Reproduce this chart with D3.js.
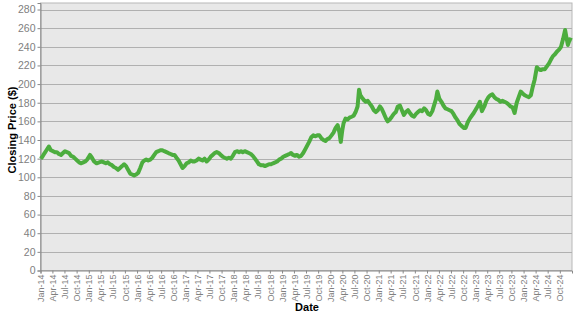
<!DOCTYPE html>
<html>
<head>
<meta charset="utf-8">
<script src="https://cdn.jsdelivr.net/npm/d3@7"></script>
<style>
  body { margin: 0; background: #fff; font-family: "Liberation Sans", Arial, sans-serif; }
  .tick text { fill: #808080; }
</style>
</head>
<body>
<script>
// closing prices, roughly twice a month
var dates = [
  "2014-01-02","2014-01-15","2014-02-01","2014-02-15","2014-03-05","2014-03-20","2014-04-05","2014-04-20",
  "2014-05-05","2014-05-20","2014-06-05","2014-06-20","2014-07-05","2014-07-20","2014-08-05","2014-08-20",
  "2014-09-05","2014-09-20","2014-10-05","2014-10-20","2014-11-05","2014-11-20","2014-12-05","2014-12-20",
  "2015-01-10","2015-01-25","2015-02-10","2015-03-01","2015-03-20","2015-04-10","2015-04-25","2015-05-10",
  "2015-05-25","2015-06-10","2015-06-25","2015-07-10","2015-07-25","2015-08-10","2015-08-25","2015-09-10",
  "2015-09-25","2015-10-10","2015-10-25","2015-11-10","2015-11-25","2015-12-10","2015-12-25",
  "2016-01-10","2016-01-25","2016-02-10","2016-02-25","2016-03-10","2016-03-25","2016-04-10","2016-04-25",
  "2016-05-10","2016-05-25","2016-06-10","2016-06-25","2016-07-10","2016-07-25","2016-08-10","2016-08-25",
  "2016-09-10","2016-09-25","2016-10-10","2016-10-25","2016-11-10","2016-11-25","2016-12-10","2016-12-25",
  "2017-01-10","2017-01-25","2017-02-10","2017-02-25","2017-03-10","2017-03-25","2017-04-10","2017-04-25",
  "2017-05-10","2017-05-25","2017-06-10","2017-06-25","2017-07-10","2017-07-25","2017-08-10","2017-08-25",
  "2017-09-10","2017-09-25","2017-10-10","2017-10-25","2017-11-10","2017-11-25","2017-12-10","2017-12-25",
  "2018-01-10","2018-01-25","2018-02-10","2018-02-25","2018-03-10","2018-03-25","2018-04-10","2018-04-25",
  "2018-05-10","2018-05-25","2018-06-10","2018-06-25","2018-07-10","2018-07-25","2018-08-10","2018-08-25",
  "2018-09-10","2018-09-25","2018-10-10","2018-10-25","2018-11-10","2018-11-25","2018-12-10","2018-12-25",
  "2019-01-10","2019-01-25","2019-02-10","2019-02-25","2019-03-10","2019-03-25","2019-04-10","2019-04-25",
  "2019-05-10","2019-05-25","2019-06-10","2019-06-25","2019-07-10","2019-07-25","2019-08-10","2019-08-25",
  "2019-09-10","2019-09-25","2019-10-10","2019-10-25","2019-11-10","2019-11-25","2019-12-10","2019-12-25",
  "2020-01-10","2020-01-25","2020-02-10","2020-02-25","2020-03-10","2020-03-20","2020-03-31","2020-04-10",
  "2020-04-25","2020-05-10","2020-05-25","2020-06-10","2020-06-25","2020-07-10","2020-07-25","2020-08-05",
  "2020-08-15","2020-08-25","2020-09-10","2020-09-25","2020-10-10","2020-10-25","2020-11-10","2020-11-25",
  "2020-12-10","2020-12-25",
  "2021-01-10","2021-01-25","2021-02-10","2021-02-25","2021-03-10","2021-03-25","2021-04-10","2021-04-25",
  "2021-05-10","2021-05-25","2021-06-10","2021-06-25","2021-07-10","2021-07-25","2021-08-10","2021-08-25",
  "2021-09-10","2021-09-25","2021-10-10","2021-10-25","2021-11-10","2021-11-25","2021-12-10","2021-12-25",
  "2022-01-10","2022-01-25","2022-02-10","2022-02-25","2022-03-10","2022-03-20","2022-04-05","2022-04-20",
  "2022-05-05","2022-05-20","2022-06-05","2022-06-20","2022-07-05","2022-07-20","2022-08-05","2022-08-20",
  "2022-09-05","2022-09-20","2022-10-05","2022-10-20","2022-11-05","2022-11-20","2022-12-05","2022-12-20",
  "2023-01-10","2023-01-25","2023-02-05","2023-02-20","2023-03-10","2023-03-25","2023-04-10","2023-04-25",
  "2023-05-10","2023-05-25","2023-06-10","2023-06-25","2023-07-10","2023-07-25","2023-08-10","2023-08-25",
  "2023-09-10","2023-09-25","2023-10-10","2023-10-25","2023-11-10","2023-11-25","2023-12-10","2023-12-25",
  "2024-01-10","2024-01-25","2024-02-10","2024-02-25","2024-03-10","2024-03-25","2024-04-10","2024-04-25",
  "2024-05-10","2024-05-25","2024-06-10","2024-06-25","2024-07-10","2024-07-25","2024-08-10","2024-08-25",
  "2024-09-10","2024-09-25","2024-10-10","2024-10-25","2024-11-10","2024-11-20","2024-12-01","2024-12-15",
  "2024-12-31"
];
var prices = [
  120,122,126,129,133,129,128,127, 127,125,124,126,128,127,126,123, 122,120,118,116,115,116,117,119,
  124,121,117,115,116,117,116,115, 116,114,113,111,110,108,110,112, 114,112,108,104,103,102,103,
  105,110,116,118,119,118,119,121, 124,127,128,129,129,128,127,126, 125,124,124,121,118,114,110,112,
  115,116,118,117,117,118,120,119, 118,120,117,119,122,124,126,127, 126,124,122,121,120,121,120,123,
  127,128,127,128,127,128,127,126, 125,123,120,117,114,113,113,112, 113,114,114,115,116,117,119,120,
  122,123,124,125,126,124,123,124, 122,123,126,130,134,138,143,145, 144,145,145,142,140,139,141,142,
  145,148,153,156,148,138,150,158, 163,162,164,165,166,170,176,194, 188,186,183,181,182,179,176,172,
  170,172,
  176,173,168,163,160,162,165,168, 170,176,177,172,167,170,172,169, 166,165,168,170,172,171,174,172,
  168,167,171,178,184,192,184,181, 177,174,173,172,171,168,164,161, 157,155,153,153,159,163,166,169,
  174,178,181,171,176,182,186,188, 189,186,184,183,181,182,181,180, 178,176,175,169,180,186,192,190,
  188,187,186,188,197,205,218,216, 215,216,216,219,222,226,230,232, 235,237,240,248,258,250,242,248,
  247
];
var yTicks = d3.range(0, 281, 20);
var xTickDates = d3.timeMonth.every(3).range(new Date(2014, 0, 1), new Date(2024, 11, 1));

var width = 577, height = 315;
var margin = { left: 40.5, right: 5, top: 3, bottom: 44.5 };

var parse = d3.timeParse("%Y-%m-%d");
var data = dates.map((d, i) => ({ date: parse(d), price: prices[i] }));

var x = d3.scaleTime()
  .domain([new Date(2014, 0, 1), new Date(2025, 0, 1)])
  .range([margin.left, width - margin.right]);
var y = d3.scaleLinear()
  .domain([0, 287])
  .range([height - margin.bottom, margin.top]);

var svg = d3.select("body").append("svg")
  .attr("width", width)
  .attr("height", height);

// plot background
svg.append("rect")
  .attr("x", margin.left)
  .attr("y", margin.top)
  .attr("width", width - margin.right - margin.left)
  .attr("height", height - margin.bottom - margin.top)
  .attr("fill", "#e8e8e8")
  .attr("stroke", "#b8b8b8");

// gridlines
svg.append("g")
  .selectAll("line")
  .data(yTicks.slice(1))
  .enter()
  .append("line")
  .attr("x1", margin.left)
  .attr("x2", width - margin.right)
  .attr("y1", d => Math.round(y(d)) + 0.5)
  .attr("y2", d => Math.round(y(d)) + 0.5)
  .attr("stroke", "#b0b0b0");

// y axis
var yAxis = svg.append("g")
  .attr("transform", `translate(${margin.left},0)`)
  .call(d3.axisLeft(y).tickValues(yTicks).tickSize(3).tickPadding(2));
yAxis.selectAll("text").style("font-size", "10.5px");
yAxis.selectAll("path, line").attr("stroke", "#888");

// x axis
var xAxis = svg.append("g")
  .attr("transform", `translate(0,${height - margin.bottom})`)
  .call(d3.axisBottom(x).tickValues(xTickDates).tickFormat(d3.timeFormat("%b-%y")).tickSize(3));
xAxis.selectAll("path, line").attr("stroke", "#888");
xAxis.selectAll("text")
  .style("font-size", "9px")
  .attr("text-anchor", "end")
  .attr("transform", "rotate(-90)")
  .attr("x", -4)
  .attr("y", 0)
  .attr("dy", "0.35em");

// price line
svg.append("path")
  .datum(data)
  .attr("fill", "none")
  .attr("stroke", "#4cad3e")
  .attr("stroke-width", 4)
  .attr("stroke-linejoin", "round")
  .attr("d", d3.line().x(d => x(d.date)).y(d => y(d.price)));

// axis titles
svg.append("text")
  .attr("transform", "translate(16,130) rotate(-90)")
  .attr("text-anchor", "middle")
  .style("font-size", "11px")
  .style("font-weight", "bold")
  .text("Closing Price ($)");
svg.append("text")
  .attr("x", 307)
  .attr("y", 311)
  .attr("text-anchor", "middle")
  .style("font-size", "11px")
  .style("font-weight", "bold")
  .text("Date");
</script>
</body>
</html>
